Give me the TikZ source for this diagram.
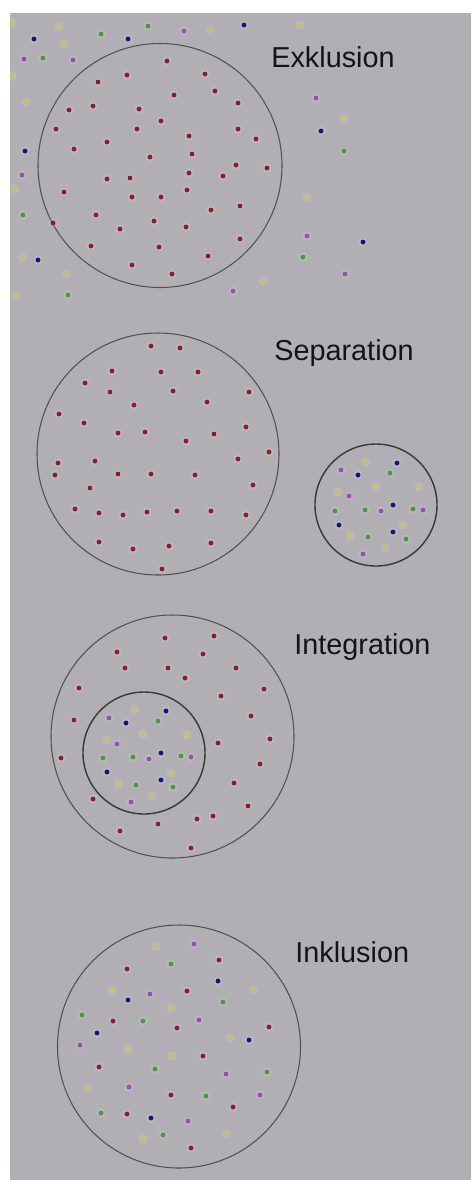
\documentclass[tikz,border=0pt]{standalone}
\usepackage{fontspec}
\setmainfont{Liberation Sans}
\usetikzlibrary{positioning}
\definecolor{cBack}{HTML}{B1AFB4}
\definecolor{cRing}{HTML}{505052}
\definecolor{cRed}{HTML}{8A1C2C}
\definecolor{cBlue}{HTML}{16127E}
\definecolor{cGreen}{HTML}{4E9640}
\definecolor{cPurple}{HTML}{9650AE}
\definecolor{cYellow}{HTML}{C4C25E}
\tikzset{
  ring/.style={draw=cRing,line width=0.6pt},
  ringsmall/.style={draw=cRing!70!black,line width=0.8pt},
  caption/.style={anchor=base west,inner sep=0pt,text=black!92,
    font=\fontsize{16.4}{18}\selectfont},
  halo/.style={fill=white,fill opacity=0.12},
}
% one dot: colour, position
\newcommand{\pdot}[2]{%
  \fill[halo] (#2) circle[radius=2.6pt];
  \fill[#1] (#2) circle[radius=1.4pt];}

\begin{document}
\begin{tikzpicture}[x=0.02cm,y=-0.02cm]
  \useasboundingbox (0,0) rectangle (471,1181);
  \fill[white] (0,0) rectangle (471,1181);
  \fill[cBack] (10,13) rectangle (471,1180);

  % --- Exklusion
  \coordinate (exkl) at (160,165.5);
  \draw[ring] (exkl) circle[radius=122];
  \node[caption] (lexkl) at (271,67) {Exklusion};
  \foreach \x/\y in {167/61,127/75,205/74,98/82,215/91,174/95,69/110,93/106,
      139/109,238/103,161/121,56/129,137/129,238/129,256/139,189/136,107/142,
      74/149,192/154,150/157,236/165,267/168,189/173,223/176,107/179,130/178,
      64/192,187/190,132/197,161/197,240/206,211/210,96/215,53/223,154/221,
      120/229,186/227,240/239,91/246,159/247,208/256,132/265,172/274}
    {\pdot{cRed}{\x,\y}}
  \foreach \x/\y in {244/25,34/39,128/39,321/131,25/151,363/242,38/260}
    {\pdot{cBlue}{\x,\y}}
  \foreach \x/\y in {148/26,101/34,43/58,344/151,23/215,303/257,68/295}
    {\pdot{cGreen}{\x,\y}}
  \foreach \x/\y in {184/31,24/59,73/60,316/98,22/175,307/236,345/274,233/291}
    {\pdot{cPurple}{\x,\y}}
  \foreach \x/\y in {12/23,59/27,210/29,300/25,64/44,12/76,26/102,344/118,
      15/189,307/197,22/257,67/274,263/281,16/296}
    {\pdot{cYellow}{\x,\y}}

  % --- Separation
  \coordinate (sepa) at (158,454);
  \coordinate (sepb) at (376,505);
  \draw[ring] (sepa) circle[radius=121];
  \draw[ringsmall] (sepb) circle[radius=61];
  \node[caption] (lsepa) at (274,360.5) {Separation};
  \foreach \x/\y in {151/346,180/348,112/371,161/372,198/372,85/383,110/392,
      173/391,249/392,207/402,134/405,59/414,84/423,246/427,118/433,145/432,
      214/434,186/441,269/452,238/459,58/463,95/461,55/475,118/474,151/474,
      195/475,253/485,90/488,75/509,99/513,123/515,147/512,177/511,211/511,
      246/515,99/542,133/549,169/546,211/543,162/569}
    {\pdot{cRed}{\x,\y}}
  \foreach \x/\y in {397/463,358/475,393/505,339/525,393/532}
    {\pdot{cBlue}{\x,\y}}
  \foreach \x/\y in {390/473,335/511,365/510,413/509,368/537,406/539}
    {\pdot{cGreen}{\x,\y}}
  \foreach \x/\y in {341/470,349/496,381/511,423/510,363/554}
    {\pdot{cPurple}{\x,\y}}
  \foreach \x/\y in {366/462,376/486,338/492,419/487,403/525,350/536,385/548}
    {\pdot{cYellow}{\x,\y}}

  % --- Integration
  \coordinate (inta) at (172.5,736.5);
  \coordinate (intb) at (144,753);
  \draw[ring] (inta) circle[radius=121.5];
  \draw[ringsmall] (intb) circle[radius=61];
  \node[caption] (linta) at (294,654) {Integration};
  \foreach \x/\y in {165/638,214/636,117/652,203/654,125/668,168/668,236/668,
      185/678,79/688,264/689,221/696,251/716,74/720,270/739,218/743,61/758,
      260/764,234/783,93/799,248/806,197/819,213/816,158/824,120/831,191/848}
    {\pdot{cRed}{\x,\y}}
  \foreach \x/\y in {166/711,126/723,161/753,107/772,161/780}
    {\pdot{cBlue}{\x,\y}}
  \foreach \x/\y in {158/721,103/758,133/757,181/756,136/785,173/787}
    {\pdot{cGreen}{\x,\y}}
  \foreach \x/\y in {109/718,117/744,149/759,191/757,131/802}
    {\pdot{cPurple}{\x,\y}}
  \foreach \x/\y in {135/709,143/734,187/735,107/740,171/773,118/784,152/796}
    {\pdot{cYellow}{\x,\y}}

  % --- Inklusion
  \coordinate (inkl) at (179,1046.5);
  \draw[ring] (inkl) circle[radius=121.5];
  \node[caption] (linkl) at (295,962) {Inklusion};
  \foreach \x/\y in {219/960,127/969,187/991,113/1021,177/1028,269/1027,
      203/1056,99/1067,171/1095,233/1107,127/1114,191/1148}
    {\pdot{cRed}{\x,\y}}
  \foreach \x/\y in {218/981,128/1000,97/1033,249/1040,151/1118}
    {\pdot{cBlue}{\x,\y}}
  \foreach \x/\y in {171/964,223/1002,82/1015,143/1021,155/1069,267/1072,
      206/1096,101/1113,163/1135}
    {\pdot{cGreen}{\x,\y}}
  \foreach \x/\y in {194/944,150/994,199/1020,80/1045,226/1074,129/1087,
      260/1095,188/1121}
    {\pdot{cPurple}{\x,\y}}
  \foreach \x/\y in {156/947,112/990,253/990,171/1008,230/1038,128/1050,
      172/1056,87/1088,143/1139,227/1134}
    {\pdot{cYellow}{\x,\y}}
\end{tikzpicture}
\end{document}
